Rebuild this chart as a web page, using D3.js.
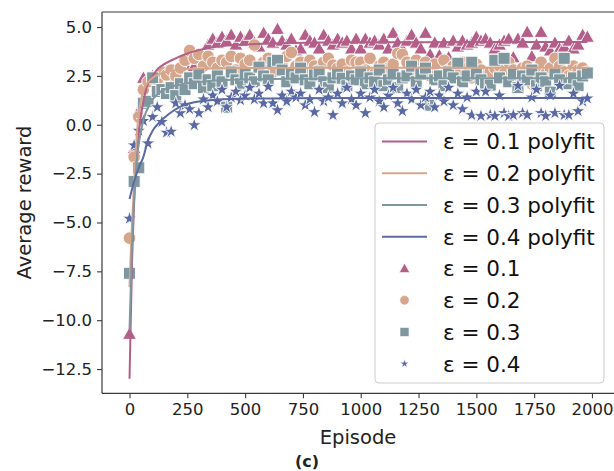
<!DOCTYPE html>
<html><head><meta charset="utf-8">
<script src="https://cdn.jsdelivr.net/npm/d3@7"></script>
<style>body{margin:0;background:#fff}svg{display:block}text{font-family:"DejaVu Sans",sans-serif}</style>
</head><body>
<svg id="c" width="614" height="471"></svg>
<script>
// ---- data ----
const seriesNames = ["ε = 0.1", "ε = 0.2", "ε = 0.3", "ε = 0.4"];
const colors = ["#b45e8a", "#d6a68c", "#7f979f", "#5a69a3"];
const episodes = d3.range(0, 2000, 20);
const xTicks = [0, 250, 500, 750, 1000, 1250, 1500, 1750, 2000];
const yTicks = [5.0, 2.5, 0.0, -2.5, -5.0, -7.5, -10.0, -12.5];

const reward01 = [-10.7,-1.2,0.7,2.4,2.3,2.5,2.4,2.6,2.5,2.7,2.4,2.9,3.1,2.6,3.0,2.6,3.3,4.1,4.4,4.2,
 4.5,4.3,4.6,4.1,4.5,4.3,4.6,4.2,4.0,4.7,4.4,4.2,4.9,4.3,4.1,4.4,3.8,3.9,4.6,4.3,
 4.2,3.9,4.6,4.3,4.1,4.4,4.2,4.3,3.9,4.4,3.9,4.4,4.2,4.3,4.1,4.4,3.9,4.7,4.2,3.9,
 4.3,4.6,4.2,3.9,4.7,3.6,4.2,3.55,4.2,3.45,4.3,4.0,4.3,4.1,4.2,4.5,4.3,4.4,4.2,3.9,
 4.1,4.3,4.4,3.45,4.4,4.2,4.75,3.5,4.1,4.75,4.0,3.8,4.2,3.9,4.0,4.3,3.9,4.1,4.6,4.5];
const reward02 = [-5.8,-1.65,0.4,1.8,2.2,2.4,2.3,2.7,2.55,2.8,2.5,2.9,3.3,3.8,3.4,3.6,3.0,3.5,3.2,2.9,
 3.3,3.2,3.5,2.8,3.4,3.1,3.3,4.08,2.9,3.2,3.4,2.7,3.3,3.1,3.5,3.7,3.0,3.2,2.7,3.3,
 3.0,2.8,3.2,3.4,3.05,2.9,3.1,2.7,3.3,3.2,3.2,2.8,3.4,2.6,3.0,3.2,2.9,3.1,3.65,3.6,
 3.2,2.8,3.3,2.7,3.2,2.5,3.1,2.4,3.3,2.8,3.0,2.6,3.2,2.9,2.4,3.1,2.8,2.5,2.7,2.9,
 3.0,2.6,3.2,2.8,2.5,2.9,3.0,2.1,2.7,3.2,2.6,2.9,3.4,3.0,2.7,2.5,3.0,2.8,2.9,2.7];
const reward03 = [-7.6,-2.9,-2.2,1.1,1.2,2.4,1.7,1.8,1.6,1.9,1.5,2.1,1.8,2.4,2.1,2.6,1.9,2.3,2.0,2.5,
 2.2,0.9,2.7,2.3,2.1,2.6,2.4,2.2,2.95,2.5,2.3,3.2,3.3,2.8,2.2,2.6,2.4,2.9,2.3,2.1,
 2.55,2.7,2.2,1.9,2.4,2.6,2.38,2.0,2.5,2.3,2.7,2.1,2.4,2.2,2.8,2.0,2.3,2.6,1.9,2.4,
 2.5,3.0,2.2,2.6,2.9,1.0,2.3,2.5,2.0,2.7,2.4,3.15,2.2,2.5,3.2,2.6,2.3,2.1,2.03,3.3,
 2.4,3.4,2.2,2.6,1.9,2.5,2.3,2.8,2.0,2.4,2.2,1.67,2.6,2.3,3.4,2.1,2.4,2.0,2.5,2.65];
const reward04 = [-4.8,-1.05,-0.3,0.2,-0.95,0.4,0.9,0.15,-0.4,-0.35,1.1,0.6,1.0,0.8,-0.02,0.6,1.3,0.9,1.5,1.2,
 1.8,0.9,1.4,1.7,1.26,1.5,1.9,1.3,1.6,1.1,1.95,1.1,0.75,1.5,1.2,1.7,1.4,1.6,1.0,1.3,
 0.65,1.8,1.2,1.4,0.5,1.6,1.1,1.9,1.3,1.0,1.6,0.6,1.4,1.8,1.2,0.9,1.5,1.9,1.1,0.7,
 1.6,1.3,1.8,1.0,1.4,1.7,0.9,1.5,1.2,1.9,1.0,1.6,0.8,1.4,0.5,1.7,0.45,1.7,0.5,0.45,
 1.5,0.6,0.45,0.5,2.0,0.6,0.5,1.4,1.8,0.6,0.45,1.5,0.6,2.0,0.5,0.5,1.6,0.7,1.2,1.35];

// polyfit curves
const fitEp01 = [0,10,20,30,45,60,75,100,125,150,190,250,300,375,450,550,700,1000,1500,1980];
const fitVal01 = [-13,-7.5,-4.0,-1.8,0.1,1.2,1.95,2.5,2.9,3.1,3.35,3.65,3.82,4.0,4.08,4.13,4.18,4.22,4.23,4.23];
const fitEp02 = [0,8,16,25,35,45,55,67,85,103,130,161,200,250,350,500,1000,1980];
const fitVal02 = [-8.3,-5.8,-3.86,-1.8,0.0,1.0,1.55,1.94,2.25,2.44,2.6,2.71,2.79,2.85,2.88,2.9,2.92,2.92];
const fitEp03 = [0,10,20,30,45,60,89,132,190,250,305,400,521,700,1000,1980];
const fitVal03 = [-10.5,-6.5,-3.8,-2.0,-0.6,0.24,1.1,1.67,1.98,2.12,2.2,2.28,2.32,2.36,2.38,2.38];
const fitEp04 = [0,20,40,60,80,100,125,170,218,280,348,478,700,1000,1980];
const fitVal04 = [-3.8,-2.9,-2.2,-1.64,-0.8,-0.3,0.07,0.55,0.92,1.15,1.26,1.33,1.36,1.37,1.37];

// ---- drawing ----
const svg = d3.select("#c");
const L = 102, R = 616, T = 12, B = 393.3;
const x = d3.scaleLinear().domain([-119, 2104]).range([L, R]);
const y = d3.scaleLinear().domain([-13.74, 5.77]).range([B, T]);

const rewards = [reward01, reward02, reward03, reward04];
const fits = [[fitEp01, fitVal01], [fitEp02, fitVal02], [fitEp03, fitVal03], [fitEp04, fitVal04]];

function markerPath(k, s) {
  if (k === 0) { const r = 7 * s; return `M0,${-r}L${r},${r * 0.78}L${-r},${r * 0.78}Z`; }
  if (k === 1) { const r = 6.3 * s; return `M${r},0A${r},${r} 0 1,1 ${-r},0A${r},${r} 0 1,1 ${r},0Z`; }
  if (k === 2) { const h = 6 * s; return `M${-h},${-h}H${h}V${h}H${-h}Z`; }
  const ro = 7.6 * s, ri = ro * 0.382; let p = "";
  for (let i = 0; i < 10; i++) {
    const a = -Math.PI / 2 + i * Math.PI / 5, rr = i % 2 ? ri : ro;
    p += (i ? "L" : "M") + (rr * Math.cos(a)).toFixed(2) + "," + (rr * Math.sin(a)).toFixed(2);
  }
  return p + "Z";
}

const plot = svg.append("g");
rewards.forEach((vals, k) => {
  plot.append("g").selectAll("path").data(vals).join("path")
    .attr("d", markerPath(k, 1))
    .attr("transform", (d, i) => `translate(${x(episodes[i])},${y(d)})`)
    .attr("fill", colors[k]).attr("stroke", "#fff").attr("stroke-width", 0.9);
});
const line = d3.line().x(d => x(d[0])).y(d => y(d[1])).curve(d3.curveMonotoneX);
fits.forEach(([ep, v], k) => {
  plot.append("path").datum(ep.map((e, i) => [e, v[i]]))
    .attr("d", line).attr("fill", "none").attr("stroke", colors[k]).attr("stroke-width", 2);
});

// axes
const spine = "#3a3a3a";
svg.append("line").attr("x1", L).attr("x2", L).attr("y1", T).attr("y2", B).attr("stroke", spine).attr("stroke-width", 1.2);
svg.append("line").attr("x1", L).attr("x2", 614).attr("y1", B).attr("y2", B).attr("stroke", spine).attr("stroke-width", 1.2);
svg.append("line").attr("x1", L).attr("x2", 614).attr("y1", T).attr("y2", T).attr("stroke", spine).attr("stroke-width", 1.2);

const fmtY = d => d3.format(".1f")(d).replace("-", "\u2212");
const yAxis = d3.axisLeft(y).tickValues(yTicks).tickFormat(fmtY).tickSize(5).tickPadding(5);
const gy = svg.append("g").attr("transform", `translate(${L},0)`).call(yAxis);
gy.select(".domain").remove();
gy.selectAll("line").attr("stroke", spine).attr("stroke-width", 1.1);
gy.selectAll("text").attr("font-size", 16.5).attr("fill", "#222").attr("font-family", "DejaVu Sans");

const xAxis = d3.axisBottom(x).tickValues(xTicks).tickFormat(d3.format("d")).tickSize(5).tickPadding(5);
const gx = svg.append("g").attr("transform", `translate(0,${B})`).call(xAxis);
gx.select(".domain").remove();
gx.selectAll("line").attr("stroke", spine).attr("stroke-width", 1.1);
gx.selectAll("text").attr("font-size", 16.5).attr("fill", "#222").attr("font-family", "DejaVu Sans");

svg.append("text").attr("x", 358).attr("y", 444).attr("text-anchor", "middle")
  .attr("font-size", 19.5).attr("fill", "#222").text("Episode");
svg.append("text").attr("transform", "translate(31,202.5) rotate(-90)").attr("text-anchor", "middle")
  .attr("font-size", 19.5).attr("fill", "#222").text("Average reward");
svg.append("text").attr("x", 307).attr("y", 467).attr("text-anchor", "middle")
  .attr("font-size", 16).attr("font-weight", "bold").attr("font-family", "Liberation Sans, Arial, sans-serif")
  .attr("fill", "#222").text("(c)");

// legend
const lg = svg.append("g");
lg.append("rect").attr("x", 375).attr("y", 123).attr("width", 229).attr("height", 260).attr("rx", 4)
  .attr("fill", "#fff").attr("fill-opacity", 0.8).attr("stroke", "#cccccc").attr("stroke-width", 1);
const legendItems = seriesNames.map((n, k) => ({ label: n + " polyfit", k, type: "line" }))
  .concat(seriesNames.map((n, k) => ({ label: n, k, type: "marker" })));
legendItems.forEach((it, i) => {
  const cy = 141.5 + i * 31.75;
  if (it.type === "line") {
    lg.append("line").attr("x1", 382).attr("x2", 427).attr("y1", cy).attr("y2", cy)
      .attr("stroke", colors[it.k]).attr("stroke-width", 2);
  } else {
    lg.append("path").attr("d", markerPath(it.k, it.k === 3 ? 0.62 : 0.75))
      .attr("transform", `translate(404.5,${cy})`).attr("fill", colors[it.k])
      .attr("stroke", "#fff").attr("stroke-width", 0.6);
  }
  lg.append("text").attr("x", 443).attr("y", cy + 7.8).attr("font-size", 21.5).attr("fill", "#111").text(it.label);
});
</script>
</body></html>
